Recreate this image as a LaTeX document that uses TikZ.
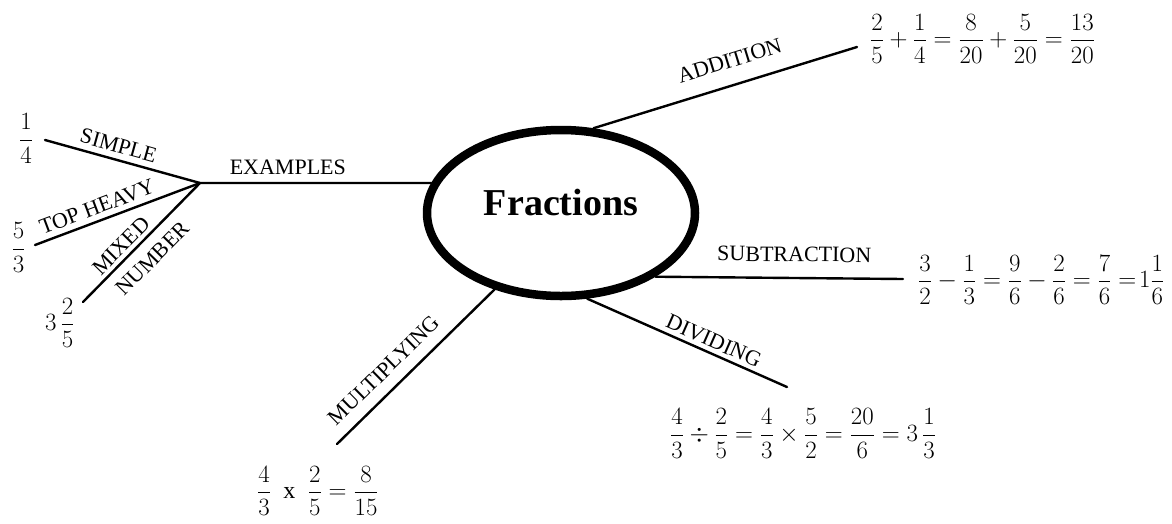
\documentclass[tikz,border=0pt]{standalone}
\usepackage{fontspec}
\setmainfont{Liberation Serif}
\usetikzlibrary{shapes.geometric}
\tikzset{
  conn/.style={line width=2.4pt, line cap=round},
  lab/.style={font=\fontsize{22}{24}\selectfont, inner sep=0pt, sloped},
  eqn/.style={inner sep=0pt, anchor=west, font=\fontsize{24}{28}\selectfont},
  frc/.style={inner sep=0pt, font=\fontsize{24}{28}\selectfont},
  hub/.style={ellipse, draw, line width=8.5pt, minimum width=268pt, minimum height=166pt,
    inner sep=0pt, font=\fontsize{38}{40}\selectfont\bfseries, text height=0pt, text depth=0pt}
}
\begin{document}
\begin{tikzpicture}[x=1pt,y=-1pt]
\useasboundingbox (0,0) rectangle (1172,523);
\fill[white] (0,0) rectangle (1172,523);
% centre
\node[hub] (fr) at (561,213) {\raisebox{-2.5pt}{Fractions}};
% junction and free ends
\coordinate (j) at (200,183);
\coordinate (s1) at (45,140);
\coordinate (s2) at (35,245);
\coordinate (s3) at (83,302);
\coordinate (ad) at (857,47);
\coordinate (sb) at (903,279);
\coordinate (dv) at (787,387);
\coordinate (ml) at (337,444);
% connectors
\draw[conn] (j) -- (fr.167.4) node[lab, pos=0.38, above=7pt] {EXAMPLES};
\draw[conn] (j) -- (s1) node[lab, pos=0.55, above=5.8pt] {SIMPLE};
\draw[conn] (j) -- (s2) node[lab, pos=0.595, above=5.2pt] {TOP HEAVY};
\draw[conn] (j) -- (s3) node[lab, pos=0.60, above=3.7pt] {MIXED}
                        node[lab, pos=0.52, below=10.6pt] {NUMBER};
\draw[conn] (fr.69.1) -- (ad) node[lab, pos=0.544, above=16pt] {ADDITION};
\draw[conn] (fr.-34.9) -- (sb) node[lab, pos=0.56, above=15pt] {SUBTRACTION};
\draw[conn] (fr.-73.5) -- (dv) node[lab, pos=0.608, above=4pt] {DIVIDING};
\draw[conn] (fr.-131.9) -- (ml) node[lab, pos=0.614, above=11pt] {MULTIPLYING};
% fractions at the ends
\node[frc] (q1) at (26,138.5) {$\displaystyle\frac{1}{4}$};
\node[frc] (q2) at (18.5,247.5) {$\displaystyle\frac{5}{3}$};
\node[eqn] (q3) at (45,323) {$\displaystyle 3\,\frac{2}{5}$};
\node[eqn] (ea) at (870,39) {$\displaystyle\frac{2}{5}+\frac{1}{4}=\frac{8}{20}+\frac{5}{20}=\frac{13}{20}$};
\node[eqn] (es) at (918,280) {$\displaystyle\frac{3}{2}-\frac{1}{3}=\frac{9}{6}-\frac{2}{6}=\frac{7}{6}=\!1\frac{1}{6}$};
\node[eqn] (ed) at (670,433.5) {$\displaystyle\frac{4}{3}\div\frac{2}{5}=\frac{4}{3}\times\frac{5}{2}=\frac{20}{6}=3\,\frac{1}{3}$};
\node[eqn] (em) at (257,491) {$\displaystyle\frac{4}{3}\;\mathbin{\mathrm{x}}\;\frac{2}{5}=\frac{8}{15}$};
\end{tikzpicture}
\end{document}
